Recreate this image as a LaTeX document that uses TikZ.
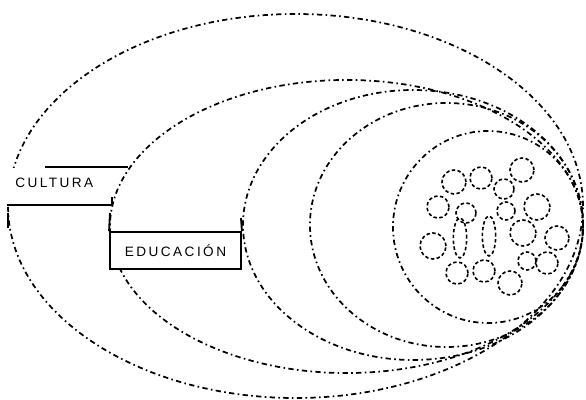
\documentclass[tikz,border=0pt]{standalone}
\usepackage{fontspec}
\setmainfont{Liberation Sans}
\newfontfamily\labfont[LetterSpace=18]{Liberation Sans}
\begin{document}
\begin{tikzpicture}[x=0.75pt,y=-0.75pt,
  ring/.style={line width=1.3pt, dash pattern=on 4pt off 2.5pt on 1.2pt off 2.5pt},
  blob/.style={line width=1.2pt, dash pattern=on 2.6pt off 1.8pt},
  tab/.style={line width=1.4pt},
  lab/.style={font=\labfont\fontsize{10.2}{11}\selectfont, inner sep=0pt}]
\useasboundingbox (0,0) rectangle (586,400);
\fill[white] (0,0) rectangle (586,400);
% outer ellipse
\draw[ring] (295.5,206) ellipse [x radius=215.6pt, y radius=144pt];
% Cultura band
\fill[white] (3,168) rectangle (112,204);
\draw[tab] (45,167) coordinate (c1) -- (128,167) coordinate (c2);
\draw[tab] (7,205) coordinate (c3) -- (112,205) coordinate (c4) -- (112,197) coordinate (c5);
\draw[tab] (8,213) coordinate (c6) -- (8,228) coordinate (c7);
\node[lab, anchor=west] (cultura) at (15,183) {CULTURA};
% nested ellipses
\draw[ring] (346.5,226.5) ellipse [x radius=177.4pt, y radius=109.9pt];
\draw[ring] (413,225) ellipse [x radius=127.5pt, y radius=101.25pt];
\draw[ring] (446.5,225) ellipse [x radius=102.4pt, y radius=91.5pt];
\draw[ring] (488,227) ellipse [x radius=71.25pt, y radius=72pt];
% Educacion box
\node[draw, tab, fill=white, minimum width=131*0.75pt, minimum height=37*0.75pt, inner sep=0pt] (edu) at (175.5,250.5) {};
\node[lab] (edut) at (edu.center) {EDUCACIÓN};
\draw[tab] (110,213) coordinate (e1) -- (edu.north west);
\draw[tab] (241,218) coordinate (e2) -- (edu.north east);
% cluster of small circles
\foreach \cx/\cy/\r in {454/182/12, 481/178/11, 504/189/10, 522/170/12,
  438/207/11, 466/213/10, 506/211/9, 537/207/13,
  433/246/13, 523/233/13, 557/238/12,
  457/273/11, 484/271/11, 510/283/12, 547/263/11, 527/261/9}
  \draw[blob] (\cx,\cy) circle [radius=\r*0.75pt];
\draw[blob] (460,238) ellipse [x radius=5pt, y radius=15pt];
\draw[blob] (489,236) ellipse [x radius=5pt, y radius=15pt];
\end{tikzpicture}
\end{document}
